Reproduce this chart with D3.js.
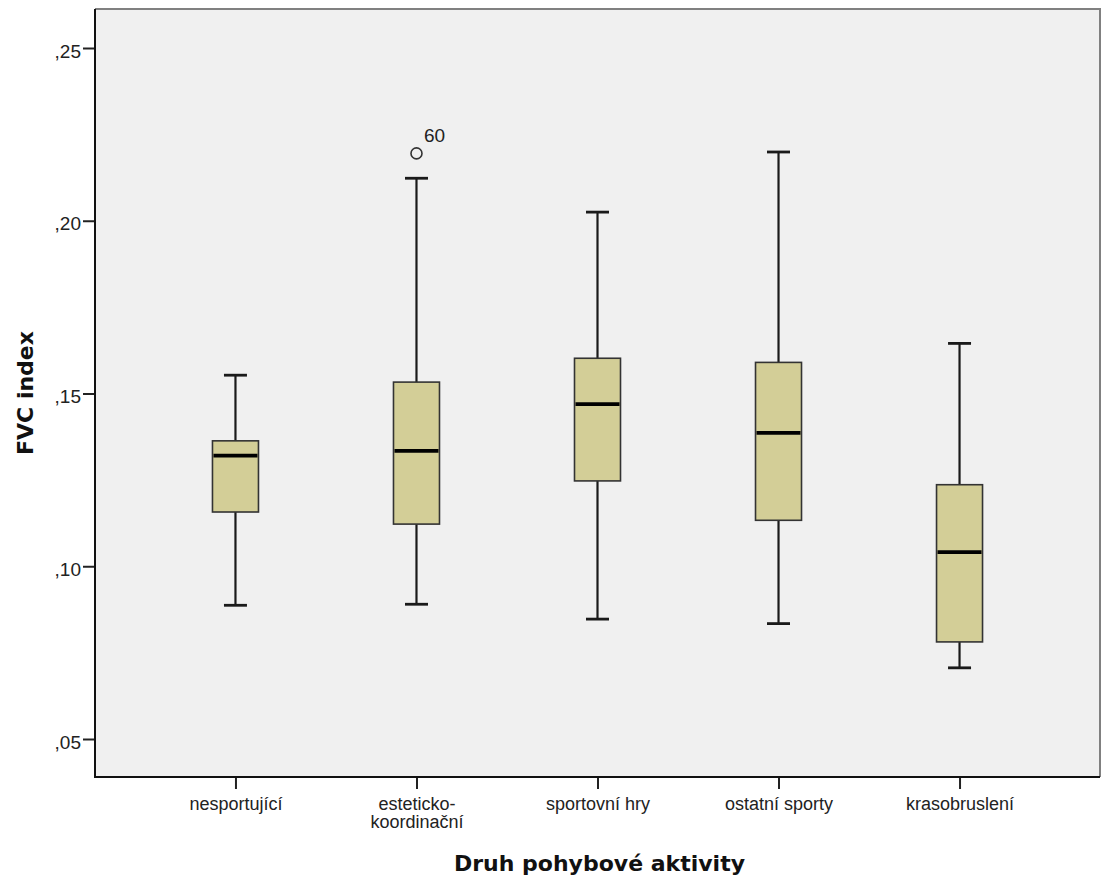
<!DOCTYPE html>
<html>
<head>
<meta charset="utf-8">
<script src="https://cdn.jsdelivr.net/npm/d3@7"></script>
<style>
  html, body { margin: 0; padding: 0; background: #ffffff; }
  svg { display: block; }
</style>
</head>
<body>
<svg id="chart" width="1101" height="881"></svg>
<script>
// Groups of physical activity
const categories = ["nesportující", "esteticko-koordinační", "sportovní hry", "ostatní sporty", "krasobruslení"];
// Tick labels, one array of lines per category
const tickLabels = [["nesportující"], ["esteticko-", "koordinační"], ["sportovní hry"], ["ostatní sporty"], ["krasobruslení"]];

// Five-number summaries of the FVC index per group
const whiskerLow  = [0.0887, 0.0890, 0.0847, 0.0834, 0.0706];
const q1          = [0.1157, 0.1122, 0.1247, 0.1133, 0.0781];
const median      = [0.1320, 0.1334, 0.1469, 0.1386, 0.1041];
const q3          = [0.1363, 0.1533, 0.1602, 0.1590, 0.1236];
const whiskerHigh = [0.1553, 0.2123, 0.2025, 0.2199, 0.1645];

// Outliers: group, value, case number
const outlierGroup = ["esteticko-koordinační"];
const outlierValue = [0.2195];
const outlierCase  = ["60"];

const yTicks = [0.05, 0.10, 0.15, 0.20, 0.25];

const xTitle = "Druh pohybové aktivity";
const yTitle = "FVC index";

const svg = d3.select("#chart");

const plot = { left: 95, right: 1100, top: 9, bottom: 777 };

const x = d3.scalePoint()
  .domain(categories)
  .range([plot.left, plot.right])
  .padding(0.776);

const y = d3.scaleLinear()
  .domain([0.05, 0.25])
  .range([739, 48]);

// plot background
svg.append("rect")
  .attr("x", plot.left).attr("y", plot.top)
  .attr("width", plot.right - plot.left)
  .attr("height", plot.bottom - plot.top)
  .attr("fill", "#f0f0f0");

// top and right frame edges
svg.append("path")
  .attr("d", `M${plot.left},${plot.top}H${plot.right}V${plot.bottom}`)
  .attr("fill", "none")
  .attr("stroke", "#808080")
  .attr("stroke-width", 2);

// y axis
const yAxis = svg.append("g")
  .attr("transform", `translate(${plot.left},0)`)
  .call(d3.axisLeft(y)
    .tickValues(yTicks)
    .tickSize(12)
    .tickFormat(d => "," + d3.format(".2f")(d).split(".")[1]));
yAxis.select(".domain").remove();
yAxis.selectAll(".tick line").attr("stroke", "#222").attr("stroke-width", 2);
yAxis.selectAll(".tick text")
  .attr("x", -14)
  .attr("dy", 9)
  .attr("fill", "#222")
  .style("font-family", "'Liberation Sans', Arial, sans-serif")
  .style("font-size", "19px");

// x axis
const xAxis = svg.append("g")
  .attr("transform", `translate(0,${plot.bottom})`)
  .call(d3.axisBottom(x).tickSize(12).tickFormat(""));
xAxis.select(".domain").remove();
xAxis.selectAll(".tick line").attr("stroke", "#222").attr("stroke-width", 2);
xAxis.selectAll(".tick").each(function (d, i) {
  const t = d3.select(this).append("text")
    .attr("fill", "#222")
    .attr("text-anchor", "middle")
    .style("font-family", "'Liberation Sans', Arial, sans-serif")
    .style("font-size", "18px");
  tickLabels[i].forEach((line, k) => {
    t.append("tspan").attr("x", 0).attr("y", 32.5 + k * 18.5).text(line);
  });
});

// left and bottom axis lines
svg.append("path")
  .attr("d", `M${plot.left},${plot.top}V${plot.bottom}H${plot.right}`)
  .attr("fill", "none")
  .attr("stroke", "#111")
  .attr("stroke-width", 2);

// box plots
const boxW = 46;
const capW = 23;
const ink = "#1a1a1a";

const groups = svg.append("g").selectAll("g")
  .data(categories)
  .join("g")
  .attr("transform", d => `translate(${x(d)},0)`);

// whiskers
groups.append("line")
  .attr("x1", 0).attr("x2", 0)
  .attr("y1", (d, i) => y(whiskerHigh[i]))
  .attr("y2", (d, i) => y(q3[i]))
  .attr("stroke", ink).attr("stroke-width", 2.2);
groups.append("line")
  .attr("x1", 0).attr("x2", 0)
  .attr("y1", (d, i) => y(q1[i]))
  .attr("y2", (d, i) => y(whiskerLow[i]))
  .attr("stroke", ink).attr("stroke-width", 2.2);

// whisker caps
groups.append("line")
  .attr("x1", -capW / 2).attr("x2", capW / 2)
  .attr("y1", (d, i) => y(whiskerHigh[i]))
  .attr("y2", (d, i) => y(whiskerHigh[i]))
  .attr("stroke", ink).attr("stroke-width", 2.8);
groups.append("line")
  .attr("x1", -capW / 2).attr("x2", capW / 2)
  .attr("y1", (d, i) => y(whiskerLow[i]))
  .attr("y2", (d, i) => y(whiskerLow[i]))
  .attr("stroke", ink).attr("stroke-width", 2.8);

// boxes
groups.append("rect")
  .attr("x", -boxW / 2)
  .attr("width", boxW)
  .attr("y", (d, i) => y(q3[i]))
  .attr("height", (d, i) => y(q1[i]) - y(q3[i]))
  .attr("fill", "#d3ce97")
  .attr("stroke", "#333")
  .attr("stroke-width", 1.6);

// medians
groups.append("line")
  .attr("x1", -boxW / 2 + 1).attr("x2", boxW / 2 - 1)
  .attr("y1", (d, i) => y(median[i]))
  .attr("y2", (d, i) => y(median[i]))
  .attr("stroke", "#000").attr("stroke-width", 3.8);

// outliers
outlierGroup.forEach((g, i) => {
  svg.append("circle")
    .attr("cx", x(g))
    .attr("cy", y(outlierValue[i]))
    .attr("r", 5.5)
    .attr("fill", "none")
    .attr("stroke", "#333")
    .attr("stroke-width", 1.6);
  svg.append("text")
    .attr("x", x(g) + 7.5)
    .attr("y", y(outlierValue[i]) - 11)
    .attr("fill", "#222")
    .style("font-family", "'Liberation Sans', Arial, sans-serif")
    .style("font-size", "19px")
    .text(outlierCase[i]);
});

// axis titles
svg.append("text")
  .attr("x", (plot.left + plot.right) / 2 + 2)
  .attr("y", 871)
  .attr("text-anchor", "middle")
  .attr("fill", "#111")
  .style("font-family", "'DejaVu Sans', sans-serif")
  .style("font-weight", "bold")
  .style("font-size", "22px")
  .text(xTitle);

svg.append("text")
  .attr("transform", `translate(33,${(plot.top + plot.bottom) / 2}) rotate(-90)`)
  .attr("text-anchor", "middle")
  .attr("fill", "#111")
  .style("font-family", "'DejaVu Sans', sans-serif")
  .style("font-weight", "bold")
  .style("font-size", "22px")
  .text(yTitle);
</script>
</body>
</html>
